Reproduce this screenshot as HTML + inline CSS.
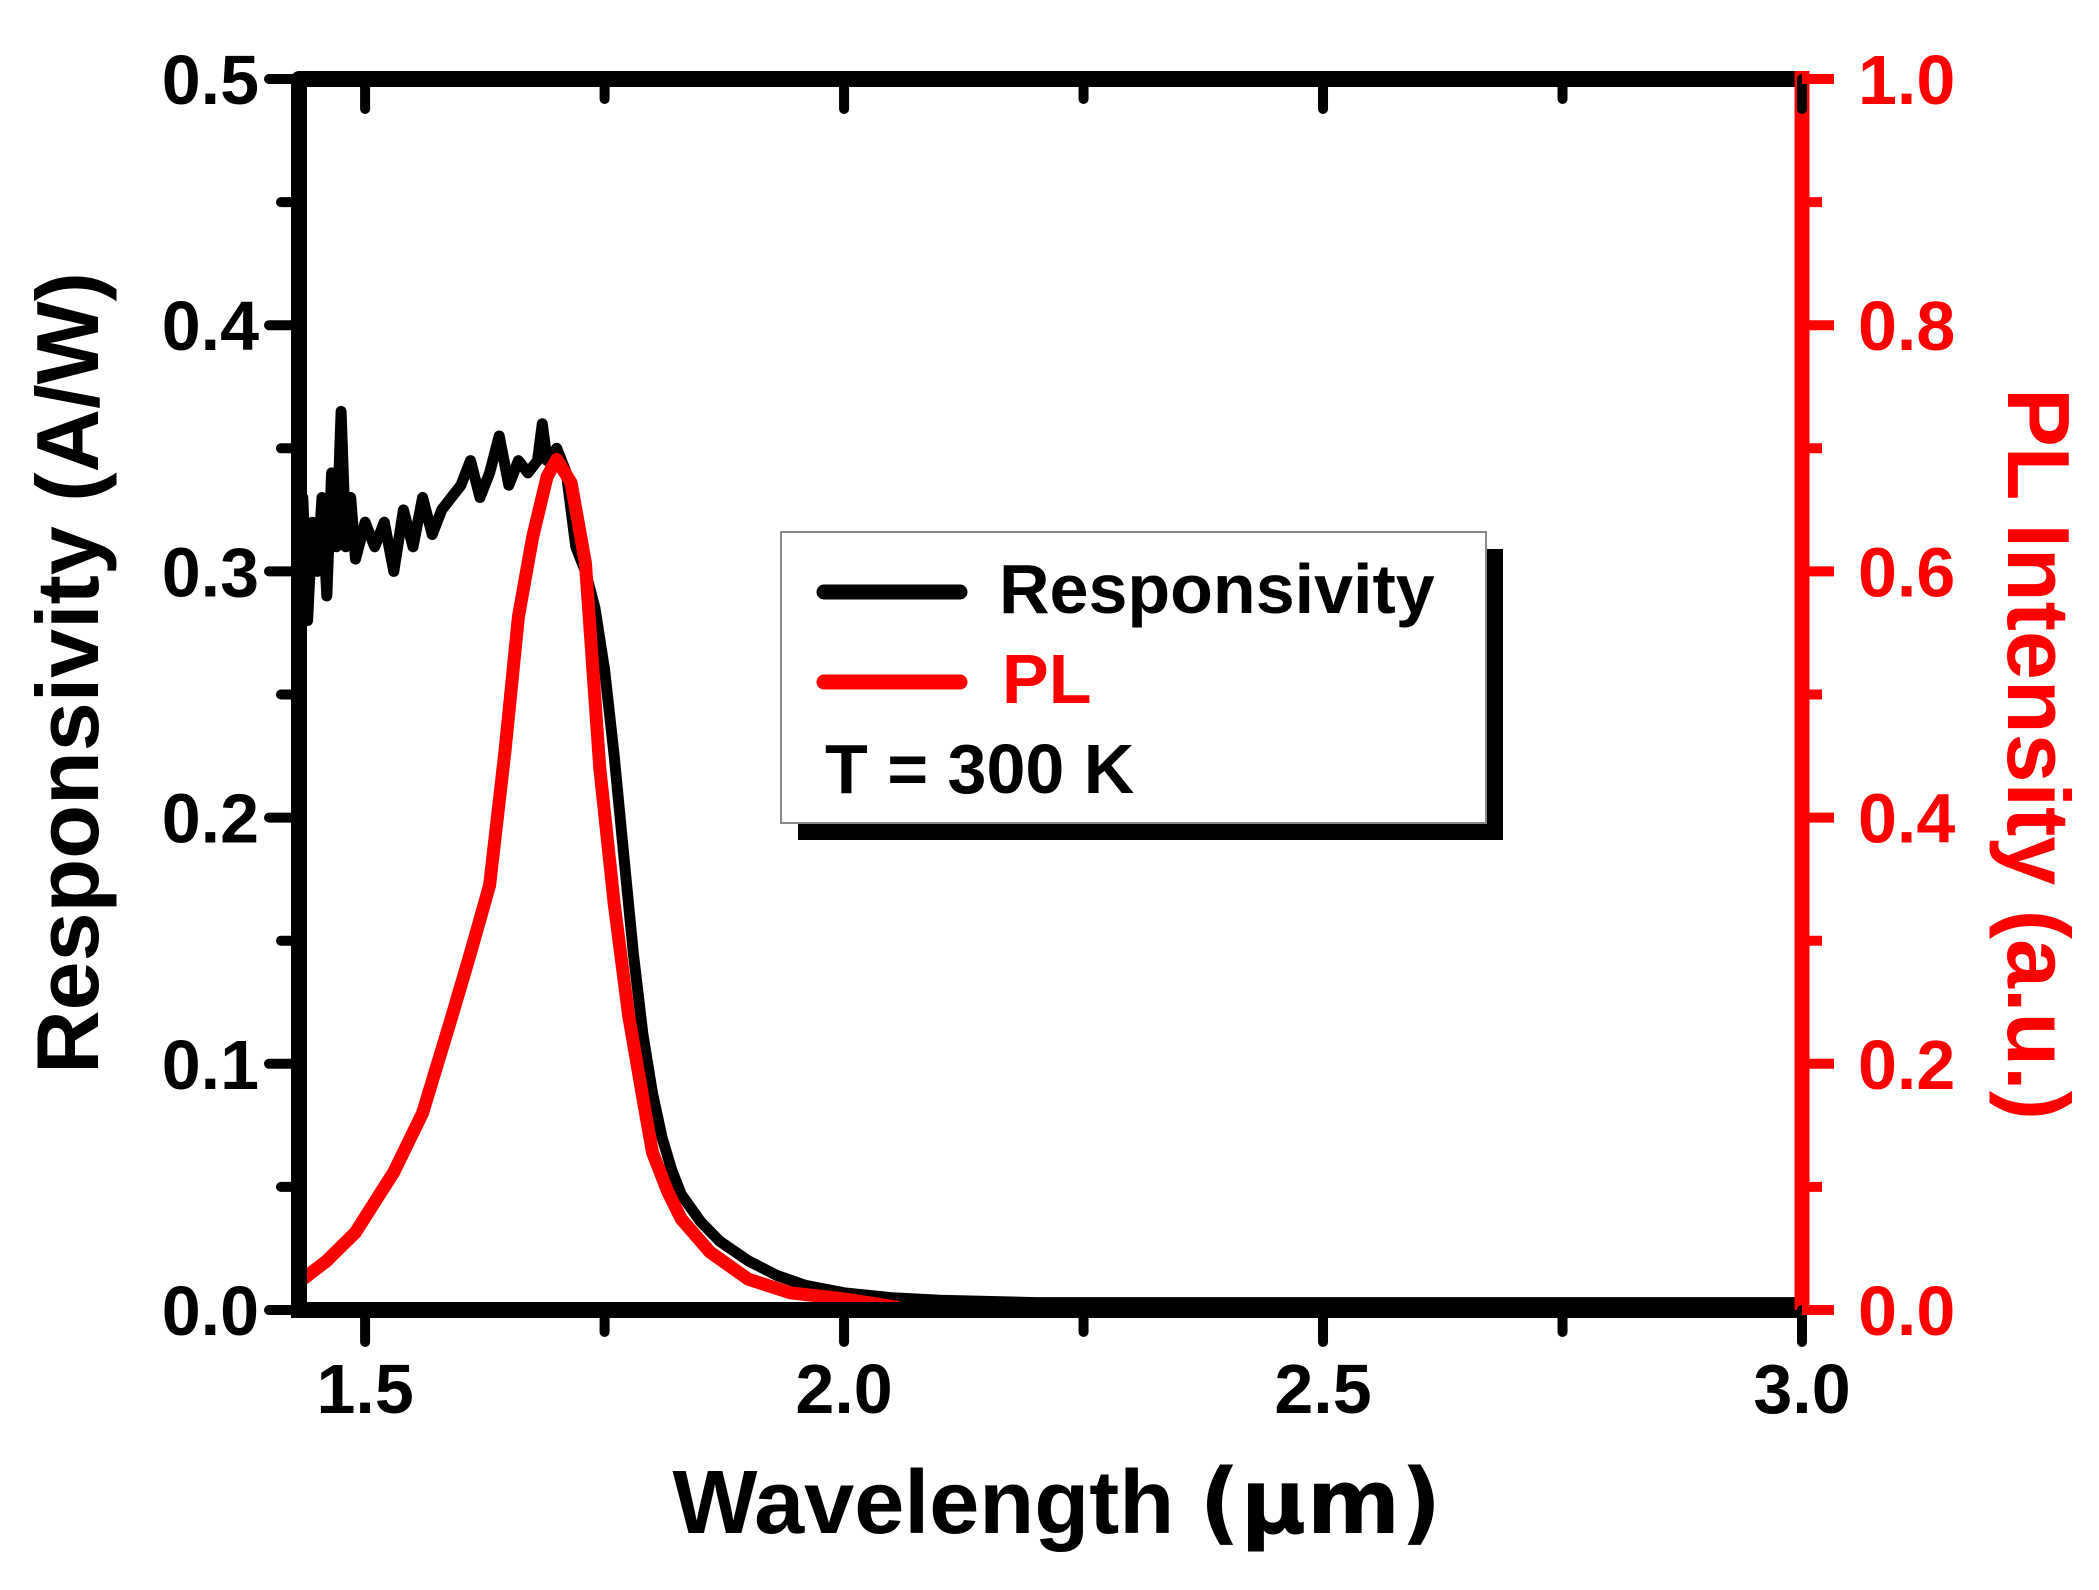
<!DOCTYPE html>
<html><head><meta charset="utf-8"><style>
html,body{margin:0;padding:0;background:#fff;}
svg{display:block;font-family:"Liberation Sans",Arial,sans-serif;font-weight:bold;}
</style></head><body>
<svg id="chart" width="2099" height="1590" viewBox="0 0 2099 1590" xmlns="http://www.w3.org/2000/svg">
<rect width="2099" height="1590" fill="#fff"/>
<g id="series"></g>
<g id="axes"></g>
<g>
  <rect x="798" y="549" width="705" height="291" fill="#000"/>
  <rect x="781" y="532" width="705" height="291" fill="#fff" stroke="#888" stroke-width="2"/>
  <line x1="824" y1="592" x2="960" y2="592" stroke="#000" stroke-width="15" stroke-linecap="round"/>
  <text x="999" y="613" font-size="70" fill="#000">Responsivity</text>
  <line x1="824" y1="682" x2="960" y2="682" stroke="#f00" stroke-width="15" stroke-linecap="round"/>
  <text x="1002" y="703" font-size="70" fill="#f00">PL</text>
  <text x="825" y="793" font-size="70" fill="#000">T = 300 K</text>
</g>
<text x="1057" y="1533" font-size="90" text-anchor="middle" fill="#000">Wavelength <tspan font-family="'DejaVu Sans',sans-serif">(μm)</tspan></text>
<text transform="translate(98,673) rotate(-90)" font-size="88" text-anchor="middle" fill="#000">Responsivity (A/W)</text>
<text transform="translate(2008,754) rotate(90)" font-size="88" text-anchor="middle" fill="#f00">PL Intensity (a.u.)</text>
</svg>
<script>
const respX=[1.43,1.435,1.44,1.445,1.45,1.455,1.46,1.465,1.47,1.475,1.48,1.485,1.49,1.50,1.51,1.52,1.53,1.54,1.55,1.56,1.57,1.58,1.59,1.60,1.61,1.62,1.63,1.64,1.65,1.66,1.67,1.68,1.685,1.69,1.70,1.71,1.72,1.73,1.74,1.75,1.76,1.77,1.78,1.79,1.80,1.81,1.82,1.83,1.85,1.87,1.90,1.93,1.96,2.0,2.05,2.1,2.2,2.4,2.6,2.8,3.0];
const respY=[0.31,0.33,0.28,0.32,0.30,0.33,0.29,0.34,0.31,0.365,0.31,0.33,0.305,0.32,0.31,0.32,0.30,0.325,0.31,0.33,0.315,0.325,0.33,0.335,0.345,0.33,0.34,0.355,0.335,0.345,0.34,0.345,0.36,0.345,0.35,0.34,0.31,0.30,0.285,0.26,0.225,0.185,0.145,0.112,0.088,0.07,0.057,0.047,0.036,0.028,0.02,0.014,0.01,0.007,0.005,0.004,0.003,0.003,0.003,0.003,0.003];
const plX=[1.435,1.46,1.49,1.53,1.56,1.59,1.61,1.63,1.646,1.66,1.675,1.69,1.70,1.715,1.73,1.745,1.76,1.775,1.79,1.80,1.816,1.83,1.86,1.90,1.944,2.0,2.057];
const plY=[0.025,0.04,0.063,0.112,0.16,0.237,0.29,0.345,0.454,0.563,0.628,0.677,0.691,0.672,0.607,0.44,0.33,0.24,0.172,0.128,0.096,0.074,0.047,0.025,0.014,0.009,0.002];
const xTicks=[1.5,2.0,2.5,3.0];
const xTickLabels=["1.5","2.0","2.5","3.0"];
const yLeftTicks=[0,0.1,0.2,0.3,0.4,0.5];
const yLeftLabels=["0.0","0.1","0.2","0.3","0.4","0.5"];
const yRightTicks=[0,0.2,0.4,0.6,0.8,1.0];
const yRightLabels=["0.0","0.2","0.4","0.6","0.8","1.0"];

const NS="http://www.w3.org/2000/svg";
const X0=299,X1=1802,XMIN=1.431,XMAX=3.0,YB=1310,YT=79;
function X(v){return X0+(v-XMIN)/(XMAX-XMIN)*(X1-X0);}
function YL(v){return YB-v/0.5*(YB-YT);}
function YR(v){return YB-v/1.0*(YB-YT);}
function mk(tag,attrs,parent){const e=document.createElementNS(NS,tag);for(const k in attrs)e.setAttribute(k,attrs[k]);parent.appendChild(e);return e;}
const S=document.getElementById('series'),A=document.getElementById('axes');

const rp=mk('polyline',{points:respX.map((x,i)=>X(x).toFixed(1)+','+YL(respY[i]).toFixed(1)).join(' '),fill:'none',stroke:'#000','stroke-width':11,'stroke-linejoin':'round'},S);


const pp=mk('polyline',{points:plX.map((x,i)=>X(x).toFixed(1)+','+YR(plY[i]).toFixed(1)).join(' '),fill:'none',stroke:'#f00','stroke-width':13,'stroke-linejoin':'round'},S);



const ax1=mk('line',{x1:X0,y1:YT,x2:X1,y2:YT,stroke:'#000','stroke-width':16,'stroke-linecap':'round'},A);


const ax2=mk('line',{x1:X0,y1:YB,x2:X1,y2:YB,stroke:'#000','stroke-width':16},A);


const ax3=mk('line',{x1:X0,y1:YT,x2:X0,y2:YB+8,stroke:'#000','stroke-width':16},A);


const ax4=mk('line',{x1:X1,y1:YT-8,x2:X1,y2:YB,stroke:'#f00','stroke-width':15},A);



for(let v=1.5;v<=3.001;v+=0.25){
  const major=Math.abs(v*2-Math.round(v*2))<1e-6;
  const t=mk('line',{x1:X(v),y1:YB,x2:X(v),y2:YB+(major?32:22),stroke:'#000','stroke-width':10,'stroke-linecap':'round'},A);
  
  
  const t2=mk('line',{x1:X(v),y1:YT,x2:X(v),y2:YT+(major?30:20),stroke:'#000','stroke-width':10,'stroke-linecap':'round'},A);
  
  
}
xTicks.forEach((v,i)=>{
  const t=mk('text',{x:X(v),y:1413,'font-size':70,'text-anchor':'middle',fill:'#000'},A);
  t.textContent=xTickLabels[i];
  
  
});
for(let v=0;v<=0.5001;v+=0.05){
  const major=Math.abs(v*10-Math.round(v*10))<1e-6;
  const t=mk('line',{x1:X0,y1:YL(v),x2:X0-(major?30:18),y2:YL(v),stroke:'#000','stroke-width':10,'stroke-linecap':'round'},A);
  
  
}
yLeftTicks.forEach((v,i)=>{
  const t=mk('text',{x:259,y:YL(v)+25,'font-size':70,'text-anchor':'end',fill:'#000'},A);
  t.textContent=yLeftLabels[i];
  
  
});
for(let v=0;v<=1.0001;v+=0.1){
  const major=Math.abs(v*5-Math.round(v*5))<1e-6;
  const t=mk('line',{x1:X1,y1:YR(v),x2:X1+(major?32:20),y2:YR(v),stroke:'#f00','stroke-width':10},A);
  
  
}
yRightTicks.forEach((v,i)=>{
  const t=mk('text',{x:1858,y:YR(v)+25,'font-size':70,'text-anchor':'start',fill:'#f00'},A);
  t.textContent=yRightLabels[i];
  
  
});
</script>
</body></html>
